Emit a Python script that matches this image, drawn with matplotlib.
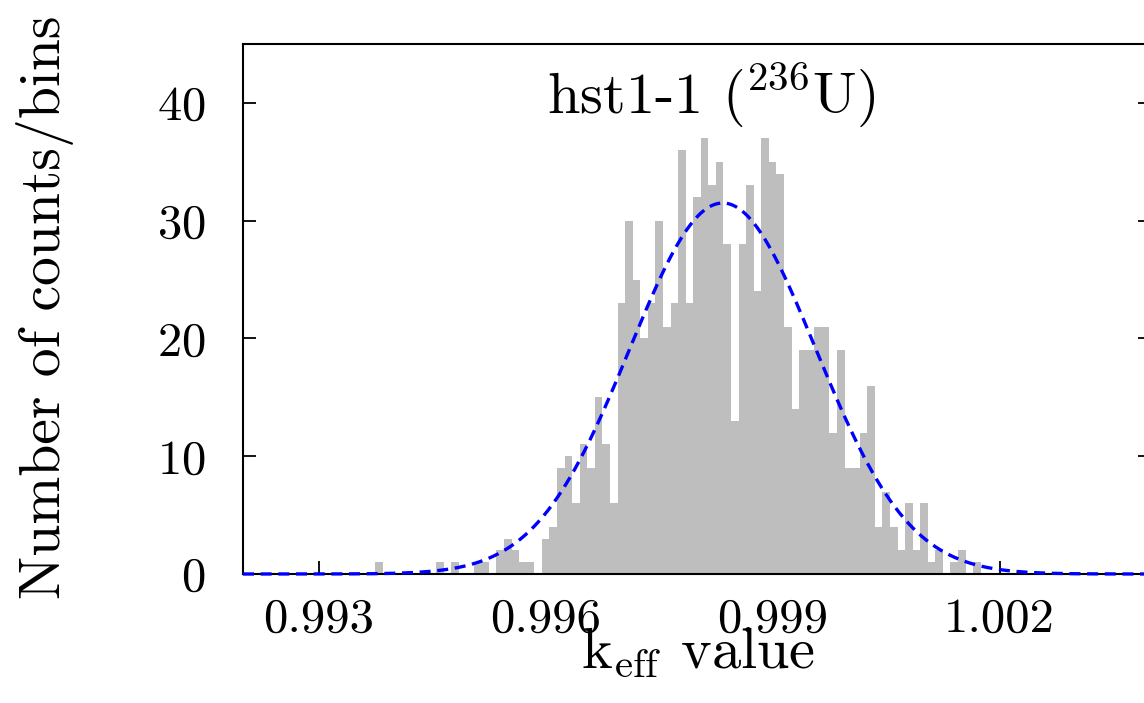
import matplotlib
matplotlib.use("Agg")
import matplotlib.pyplot as plt
import numpy as np

plt.rcParams['font.family'] = 'serif'
plt.rcParams['font.serif'] = ['cmr10']
plt.rcParams['mathtext.fontset'] = 'cm'
plt.rcParams['axes.formatter.use_mathtext'] = True

# histogram of keff samples, bin width 1e-4, centres on multiples of 1e-4
bin_width = 0.0001
bin_start = 0.9938
counts = [
    1, 0, 0, 0, 0, 0, 0, 0, 1, 0,          # 0.9938 - 0.9947
    1, 0, 0, 1, 1, 0, 2, 3, 2, 1,          # 0.9948 - 0.9957
    1, 0, 3, 4, 9, 10, 6, 11, 9, 15,       # 0.9958 - 0.9967
    11, 6, 23, 30, 25, 20, 23, 30, 21, 23, # 0.9968 - 0.9977
    36, 23, 32, 37, 33, 35, 28, 13, 28, 33,  # 0.9978 - 0.9987
    24, 37, 35, 34, 21, 14, 19, 19, 21, 21,  # 0.9988 - 0.9997
    12, 19, 9, 9, 12, 16, 4, 7, 4, 2,      # 0.9998 - 1.0007
    6, 2, 6, 1, 2, 0, 1, 2, 0, 1,          # 1.0008 - 1.0017
]

# gaussian fit drawn over the histogram
fit_mean = 0.99834
fit_sigma = 0.00123
fit_peak = 31.5

x_ticks = [0.993, 0.996, 0.999, 1.002]
y_ticks = [0, 10, 20, 30, 40]

centers = bin_start + bin_width * np.arange(len(counts))

fig = plt.figure(figsize=(11.44, 7.03), dpi=100)
ax = fig.add_axes([243 / 1144, 1 - 574 / 703, 908 / 1144, 530 / 703])

ax.bar(centers, counts, width=bin_width, color='#bebebe', linewidth=0, zorder=1)

xs = np.linspace(0.992, 1.004, 600)
ys = fit_peak * np.exp(-0.5 * ((xs - fit_mean) / fit_sigma) ** 2)
ax.plot(xs, ys, color='#0000ff', lw=2.4, ls=(0, (3.3, 2.0)), zorder=3, clip_on=False)

ax.set_xlim(0.992, 1.004)
ax.set_ylim(0, 45)
ax.set_xticks(x_ticks)
ax.set_xticklabels(['%.3f' % v for v in x_ticks])
ax.set_yticks(y_ticks)
ax.set_axisbelow(True)

ax.tick_params(axis='x', direction='in', length=9.5, width=1.3, labelsize=35,
               pad=17, top=False)
ax.tick_params(axis='y', direction='in', length=9.5, width=1.3, labelsize=35,
               pad=27, right=True)
for s in ax.spines.values():
    s.set_linewidth(1.5)
    s.set_zorder(2.5)

ax.text(0.515, 0.904, r'hst1-1 ($^{236}$U)', transform=ax.transAxes,
        ha='center', va='center', fontsize=42)

fig.text(45 / 1144, 1 - 307 / 703, 'Number of counts/bins', rotation=90,
         ha='center', va='center', fontsize=41.5)
fig.text(698 / 1144, 1 - 668 / 703, r'k$_{\rm eff}$ value',
         ha='center', va='baseline', fontsize=42)

fig.savefig('out.png', dpi=100)
